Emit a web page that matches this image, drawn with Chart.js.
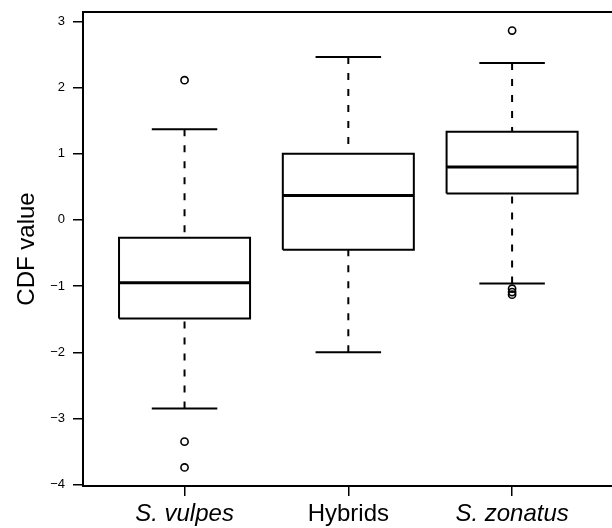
<!DOCTYPE html>
<html>
<head>
<meta charset="utf-8">
<script src="https://cdn.jsdelivr.net/npm/chart.js@4"></script>
<style>
  html, body { margin: 0; padding: 0; background: #fff; }
  #wrap { width: 612px; height: 528px; }
</style>
</head>
<body>
<div id="wrap"><canvas id="cdfBox"></canvas></div>
<script>
// valores (estatísticas do boxplot por grupo)
const categories   = ["S. vulpes", "Hybrids", "S. zonatus"];
const italicLabel  = [true, false, true];
const lowerWhisker = [-2.85, -2.00, -0.96];
const q1           = [-1.49, -0.45, 0.40];
const medians      = [-0.95, 0.37, 0.80];
const q3           = [-0.27, 1.00, 1.33];
const upperWhisker = [1.37, 2.46, 2.37];
const outliers     = [[2.11, -3.35, -3.74], [], [2.86, -1.04, -1.09, -1.13]];
const yTicks       = [-4, -3, -2, -1, 0, 1, 2, 3];

// estilo
const BOX_HALF = 0.4;
const CAP_HALF = 0.2;
const FONT = "'Liberation Sans', Arial, sans-serif";

const datasets = [];

categories.forEach((name, i) => {
    const x = i + 1;

    // whiskers tracejados (do fim até a caixa)
    datasets.push({
        type: "line",
        data: [{ x: x, y: upperWhisker[i] }, { x: x, y: q3[i] }],
        borderColor: "#000", borderWidth: 2, borderDash: [7, 9], pointRadius: 0
    });
    datasets.push({
        type: "line",
        data: [{ x: x, y: lowerWhisker[i] }, { x: x, y: q1[i] }],
        borderColor: "#000", borderWidth: 2, borderDash: [7, 9], pointRadius: 0
    });

    // caps
    [upperWhisker[i], lowerWhisker[i]].forEach(w => {
        datasets.push({
            type: "line",
            data: [{ x: x - CAP_HALF, y: w }, { x: x + CAP_HALF, y: w }],
            borderColor: "#000", borderWidth: 2, pointRadius: 0
        });
    });

    // caixa
    datasets.push({
        type: "line",
        data: [
            { x: x - BOX_HALF, y: q1[i] }, { x: x + BOX_HALF, y: q1[i] },
            { x: x + BOX_HALF, y: q3[i] }, { x: x - BOX_HALF, y: q3[i] },
            { x: x - BOX_HALF, y: q1[i] }
        ],
        borderColor: "#000", borderWidth: 2, borderJoinStyle: "miter", fill: false, pointRadius: 0
    });

    // mediana
    datasets.push({
        type: "line",
        data: [{ x: x - BOX_HALF, y: medians[i] }, { x: x + BOX_HALF, y: medians[i] }],
        borderColor: "#000", borderWidth: 3, pointRadius: 0
    });

    // outliers
    if (outliers[i].length) {
        datasets.push({
            type: "scatter",
            data: outliers[i].map(v => ({ x: x, y: v })),
            pointStyle: "circle", pointRadius: 3.6,
            borderColor: "#000", borderWidth: 1.6, backgroundColor: "rgba(0,0,0,0)"
        });
    }
});

// tira a folga automática que o Chart.js reserva para os rótulos
function noPadding(axis) {
    axis.paddingLeft = 0; axis.paddingRight = 0;
    axis.paddingTop = 0; axis.paddingBottom = 0;
}

new Chart(document.getElementById("cdfBox"), {
    type: "scatter",
    data: { datasets: datasets },
    options: {
        responsive: true,
        maintainAspectRatio: false,
        animation: false,
        layout: { autoPadding: false, padding: { top: 12, left: 0, right: 0, bottom: 0 } },
        plugins: { legend: { display: false }, tooltip: { enabled: false } },
        scales: {
            x: {
                type: "linear", position: "bottom", min: 0.38, max: 3.61,
                afterBuildTicks: axis => { axis.ticks = categories.map((_, i) => ({ value: i + 1 })); },
                afterFit: axis => { axis.height = 42; noPadding(axis); },
                ticks: {
                    color: "#000", padding: 4, maxRotation: 0, autoSkip: false,
                    callback: v => categories[v - 1],
                    font: ctx => ({ family: FONT, size: 24, style: italicLabel[ctx.index] ? "italic" : "normal" })
                },
                grid: { drawOnChartArea: false, drawTicks: true, tickLength: 10, color: "#000", lineWidth: 1.5 },
                border: { display: true, color: "#000", width: 2 }
            },
            xTop: {
                type: "linear", position: "top", display: true, min: 0.38, max: 3.61,
                afterFit: axis => { axis.height = 0; noPadding(axis); },
                ticks: { display: false },
                grid: { display: false, drawTicks: false },
                border: { display: true, color: "#000", width: 2 }
            },
            y: {
                type: "linear", position: "left", min: -4.02, max: 3.14,
                afterBuildTicks: axis => { axis.ticks = yTicks.map(v => ({ value: v })); },
                afterFit: axis => { axis.width = 83; noPadding(axis); },
                ticks: {
                    color: "#000", padding: 8, font: { family: FONT, size: 13 },
                    callback: v => (v < 0 ? "\u2212" + Math.abs(v) : String(v))
                },
                grid: { drawOnChartArea: false, drawTicks: true, tickLength: 10, color: "#000", lineWidth: 1.5 },
                border: { display: true, color: "#000", width: 2 },
                title: {
                    display: true, text: "CDF value", color: "#000",
                    font: { family: FONT, size: 24 }, padding: { top: 13, bottom: 0 }
                }
            }
        }
    }
});
</script>
</body>
</html>
